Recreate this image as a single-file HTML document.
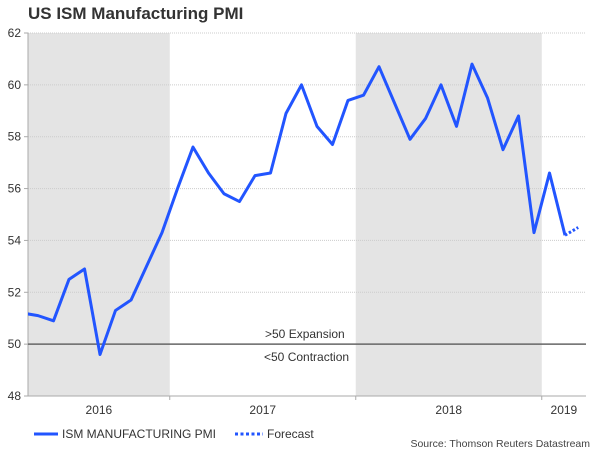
<!DOCTYPE html>
<html><head><meta charset="utf-8"><style>
body{margin:0;background:#fff;font-family:"Liberation Sans",Arial,sans-serif}
svg text{font-family:"Liberation Sans",Arial,sans-serif}
</style></head><body>
<svg id="chart" width="600" height="450" xmlns="http://www.w3.org/2000/svg">
<text x="28" y="19" font-size="17" font-weight="bold" fill="#333">US ISM Manufacturing PMI</text>
<g id="bands"></g><g id="grid"></g><g id="axes"></g><g id="series"></g>
<g>
<line x1="34" y1="434" x2="58" y2="434" stroke="#2255ff" stroke-width="3"/>
<text x="62" y="438" font-size="12" fill="#333">ISM MANUFACTURING PMI</text>
<line x1="235" y1="434" x2="263" y2="434" stroke="#2255ff" stroke-width="3" stroke-dasharray="3,2.5"/>
<text x="267" y="438" font-size="12" fill="#333">Forecast</text>
</g>
<text x="590" y="447" font-size="10.5" fill="#444" text-anchor="end">Source: Thomson Reuters Datastream</text>
</svg>
<script>
const pmiValues=[51.2,51.1,50.9,52.5,52.9,49.6,51.3,51.7,53.0,54.3,56.0,57.6,56.6,55.8,55.5,56.5,56.6,58.9,60.0,58.4,57.7,59.4,59.6,60.7,59.3,57.9,58.7,60.0,58.4,60.8,59.5,57.5,58.8,54.3,56.6,54.2];
const forecastValues=[54.2,54.5];
const yTicks=[48,50,52,54,56,58,60,62];
const yearLabels=["2016","2017","2018","2019"];
const yearStarts=[-1,9.5,21.5,33.5,36.5];
const NS="http://www.w3.org/2000/svg";
const L=28,R=586,T=33,B=396;
const x=k=>22.5+15.5*k;
const y=v=>T+(62-v)*(B-T)/14;
function mk(tag,attrs,parent,txt){const e=document.createElementNS(NS,tag);for(const a in attrs)e.setAttribute(a,attrs[a]);if(txt!==undefined)e.textContent=txt;document.getElementById(parent).appendChild(e);return e;}
for(let i=0;i<yearLabels.length;i++){
 const x1=Math.max(L,x(yearStarts[i])),x2=Math.min(R,x(yearStarts[i+1]));
 if(i%2===0){const r=mk('rect',{x:x1,y:T,width:x2-x1,height:B-T,fill:'#e4e4e4'},'bands');
 
 }
 const t=mk('text',{x:(x1+x2)/2,y:414,'font-size':12,fill:'#333','text-anchor':'middle'},'axes',yearLabels[i]);
 
 
 if(i>0){const tk=mk('line',{x1:x1,y1:B,x2:x1,y2:B+4,stroke:'#aaa'},'axes');
 
 }
}
yTicks.forEach(v=>{
 const g=mk('line',{x1:L,y1:y(v),x2:R,y2:y(v),stroke:'#ccc','stroke-dasharray':'1,1'},'grid');
 
 
 const t=mk('text',{x:21,y:y(v)+4,'font-size':12,fill:'#333','text-anchor':'end'},'axes',String(v));
 
 
 const tk=mk('line',{x1:L-4,y1:y(v),x2:L,y2:y(v),stroke:'#aaa'},'axes');
 
 
});
const ax=mk('line',{x1:L,y1:T,x2:L,y2:B,stroke:'#aaa'},'axes');


const bx=mk('line',{x1:L,y1:B,x2:R,y2:B,stroke:'#aaa'},'axes');


const ref=mk('line',{x1:L,y1:y(50),x2:R,y2:y(50),stroke:'#666','stroke-width':1.5},'axes');


const te=mk('text',{x:265,y:y(50)-6,'font-size':12,fill:'#333'},'axes','>50 Expansion');


const tc=mk('text',{x:264,y:y(50)+17,'font-size':12,fill:'#333'},'axes','<50 Contraction');


const cp=mk('clipPath',{id:'clip'},'series');
const cr=document.createElementNS(NS,'rect');
cr.setAttribute('x',L);cr.setAttribute('y',T-10);cr.setAttribute('width',R-L);cr.setAttribute('height',B-T+20);
cp.appendChild(cr);
const p=mk('polyline',{points:pmiValues.map((v,k)=>x(k)+','+y(v)).join(' '),fill:'none',stroke:'#2255ff','stroke-width':3,'stroke-linejoin':'round','clip-path':'url(#clip)'},'series');


const s0=pmiValues.length-1;
const f=mk('polyline',{points:forecastValues.map((v,k)=>(x(s0+k*0.85))+','+y(v)).join(' '),fill:'none',stroke:'#2255ff','stroke-width':3,'stroke-dasharray':'2.5,2'},'series');


</script>
</body></html>
